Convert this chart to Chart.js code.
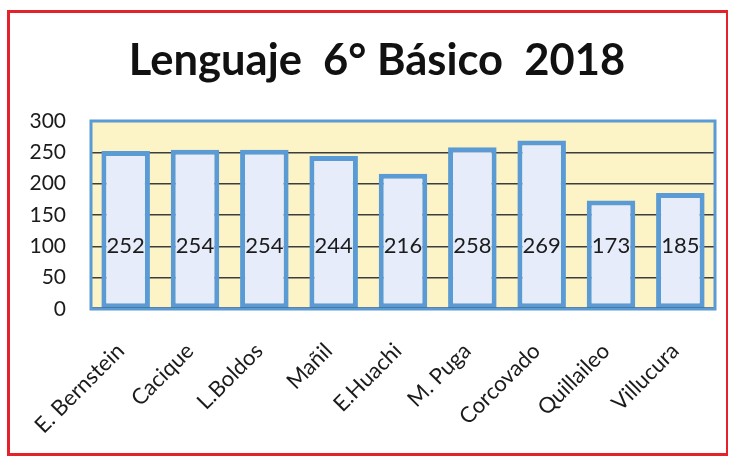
<!DOCTYPE html>
<html>
<head>
<meta charset="utf-8">
<script src="https://cdn.jsdelivr.net/npm/chart.js@4/dist/chart.umd.min.js"></script>
<style>
  html, body { margin: 0; padding: 0; background: #ffffff; }
  #wrap { position: relative; width: 730px; height: 456px; overflow: hidden; }
  #frame { position: absolute; left: 7px; top: 10px; width: 716px; height: 440px; border: 3px solid #e3222b; border-right-width: 2px; box-sizing: content-box; pointer-events: none; }
  canvas { position: absolute; left: 0; top: 0; }
</style>
</head>
<body>
<div id="wrap">
  <canvas id="c" width="730" height="456"></canvas>
  <div id="frame"></div>
</div>
<script>
const titleText = 'Lenguaje  6° Básico  2018';
const categories = ['E. Bernstein', 'Cacique', 'L.Boldos', 'Mañil', 'E.Huachi', 'M. Puga', 'Corcovado', 'Quillaileo', 'Villucura'];
const values = [252, 254, 254, 244, 216, 258, 269, 173, 185];
const yTicks = [0, 50, 100, 150, 200, 250, 300];

const plotDeco = {
  id: 'plotDeco',
  beforeDraw(chart) {
    const { ctx, chartArea: a } = chart;
    ctx.save();
    ctx.fillStyle = '#fcf3c6';
    ctx.fillRect(a.left, a.top, a.right - a.left, a.bottom - a.top);
    ctx.fillStyle = '#111111';
    ctx.font = 'bold 43.5px Lato, "Open Sans", sans-serif';
    ctx.textAlign = 'center';
    ctx.textBaseline = 'alphabetic';
    ctx.fillText(titleText, 377, 75);
    ctx.restore();
  },
  afterDatasetsDraw(chart) {
    const { ctx, chartArea: a } = chart;
    const ys = chart.scales.y;
    ctx.save();
    ctx.strokeStyle = '#3d3d3d';
    ctx.lineWidth = 1.5;
    ctx.beginPath();
    ctx.moveTo(a.left, a.bottom - 1);
    ctx.lineTo(a.right, a.bottom - 1);
    ctx.stroke();
    ctx.strokeStyle = '#5b9bd5';
    ctx.lineWidth = 3;
    ctx.strokeRect(a.left, a.top, a.right - a.left, a.bottom - a.top);
    ctx.fillStyle = '#1b1b1b';
    ctx.font = '22px Lato, "Open Sans", sans-serif';
    ctx.textAlign = 'center';
    ctx.textBaseline = 'middle';
    const meta = chart.getDatasetMeta(0);
    const yLab = ys.getPixelForValue(100);
    meta.data.forEach((bar, i) => {
      ctx.fillText(String(values[i]), bar.x, yLab);
    });
    ctx.restore();
  }
};

new Chart(document.getElementById('c'), {
  type: 'bar',
  data: {
    labels: categories,
    datasets: [{
      data: values,
      backgroundColor: '#e6ecf9',
      borderColor: '#5b9bd5',
      borderWidth: 5,
      borderSkipped: false,
      categoryPercentage: 1,
      barPercentage: 0.7
    }]
  },
  options: {
    responsive: false,
    animation: false,
    layout: { padding: { left: 0, right: 15, top: 121, bottom: 0 } },
    plugins: {
      legend: { display: false },
      tooltip: { enabled: false },
      title: { display: false }
    },
    scales: {
      x: {
        grid: { display: false, drawTicks: false },
        border: { display: false },
        ticks: {
          autoSkip: false,
          minRotation: 45,
          maxRotation: 45,
          padding: 29,
          labelOffset: -5,
          color: '#1b1b1b',
          font: { family: 'Lato, "Open Sans", sans-serif', size: 22 }
        },
        afterFit(scale) { scale.height = 147; }
      },
      y: {
        min: 0,
        max: 300,
        afterBuildTicks(scale) { scale.ticks = yTicks.map(v => ({ value: v })); },
        grid: {
          color: (ctx) => (ctx.tick && (ctx.tick.value === 0 || ctx.tick.value === 300)) ? 'rgba(0,0,0,0)' : '#3d3d3d',
          lineWidth: 1.5,
          drawTicks: false
        },
        border: { display: false },
        ticks: {
          padding: 25,
          color: '#1b1b1b',
          font: { family: 'Lato, "Open Sans", sans-serif', size: 21 }
        },
        afterFit(scale) { scale.width = 91; }
      }
    }
  },
  plugins: [plotDeco]
});
</script>
</body>
</html>
